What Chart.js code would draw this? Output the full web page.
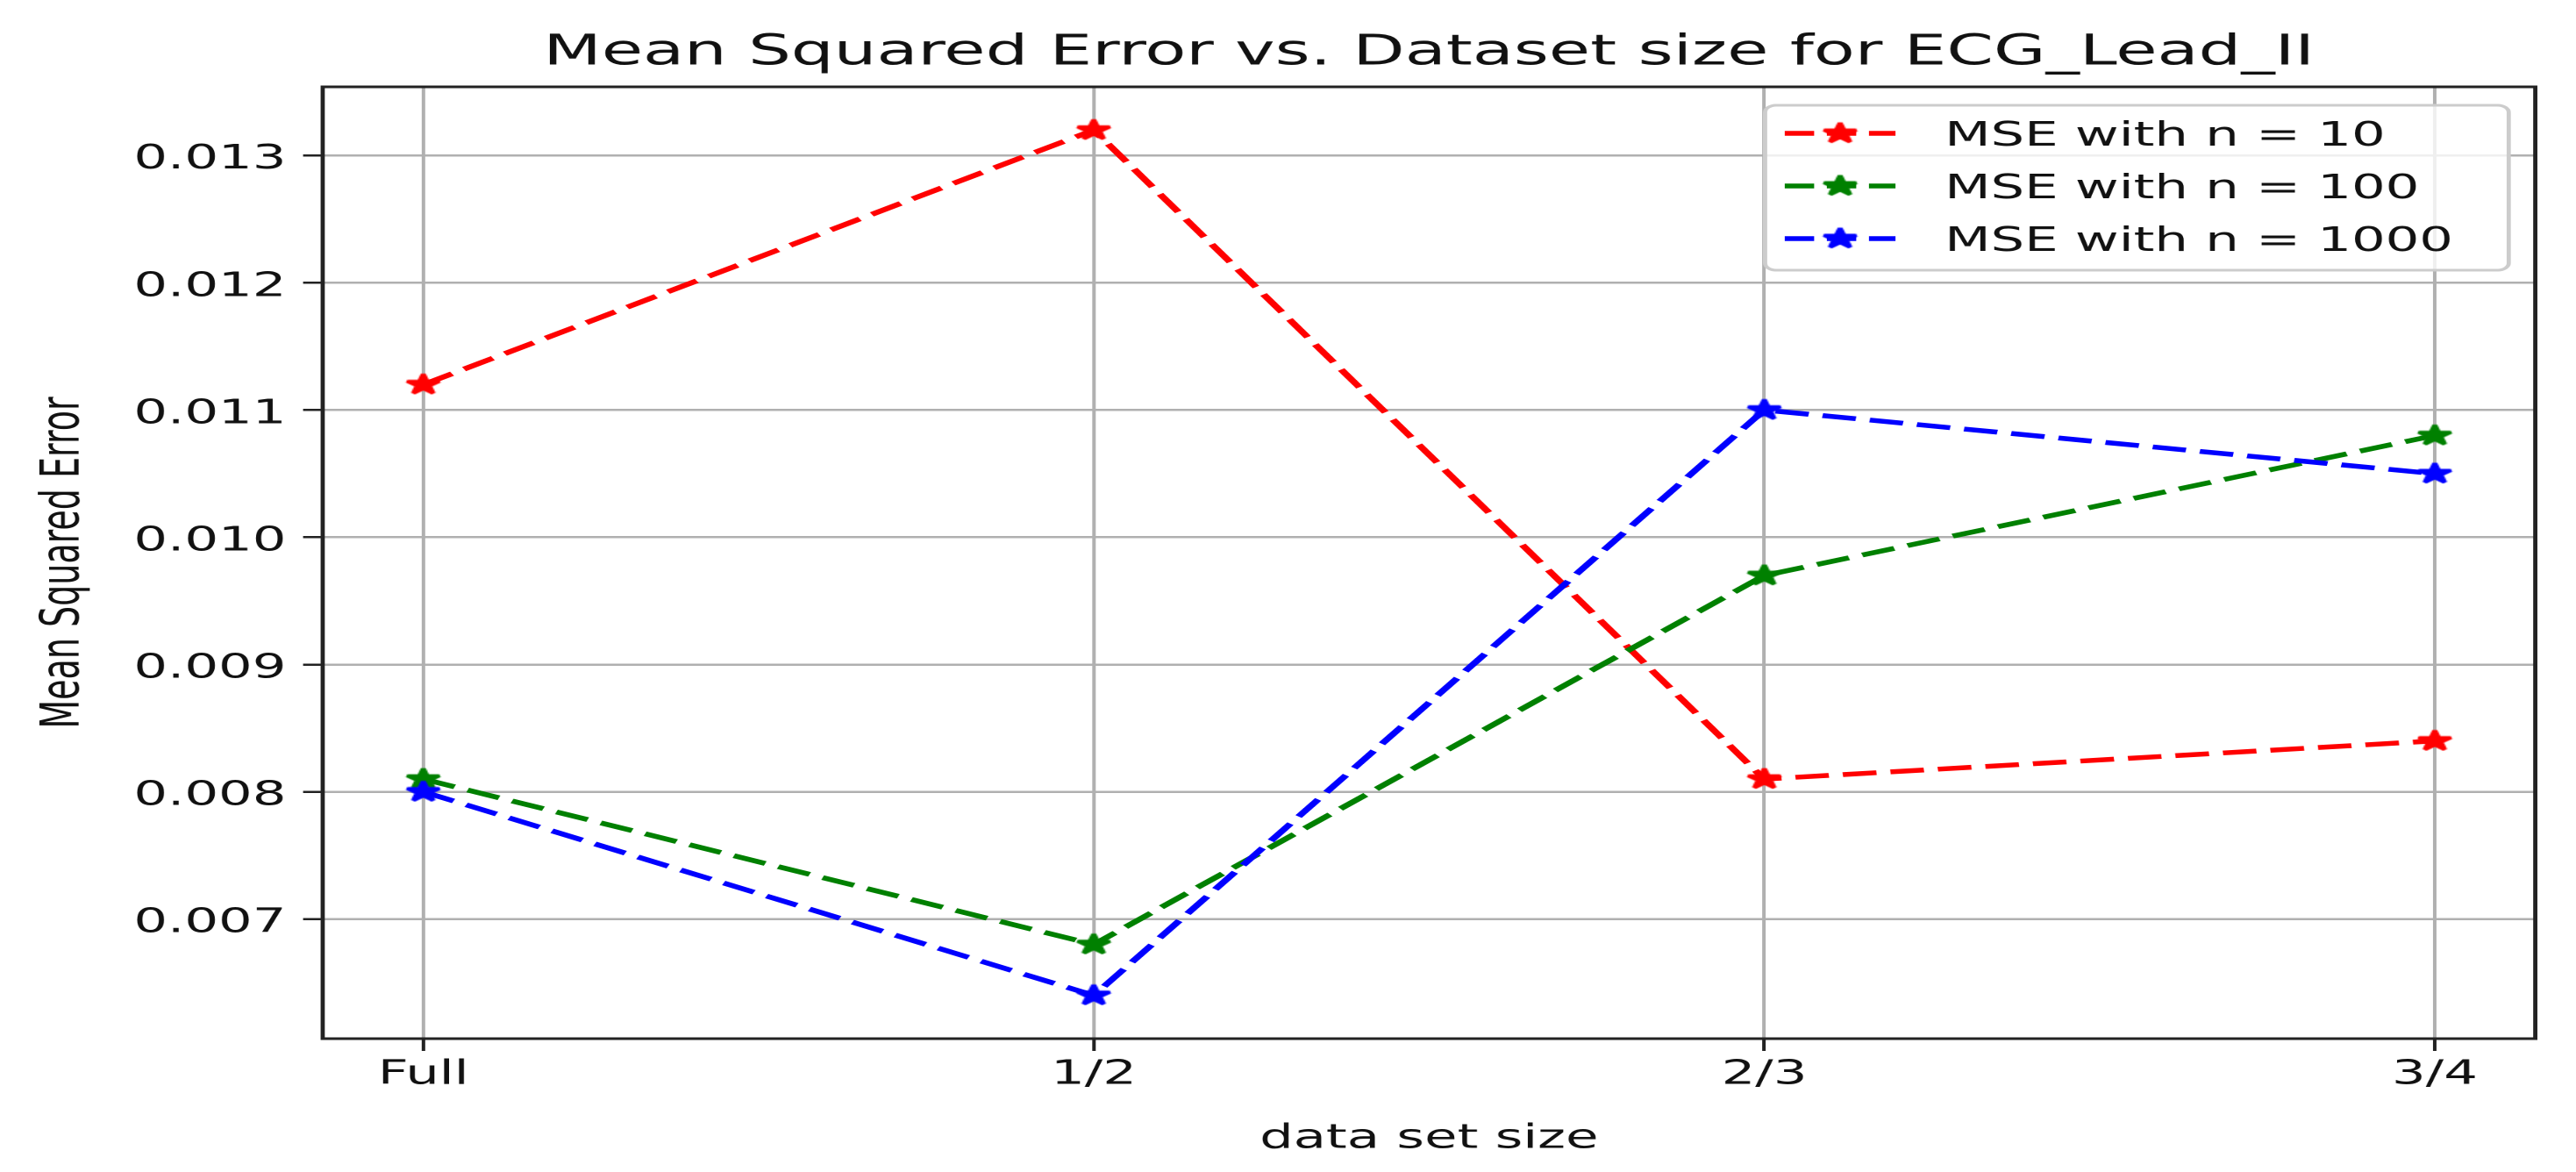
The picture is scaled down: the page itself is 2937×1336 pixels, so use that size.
<!DOCTYPE html>
<html>
<head>
<meta charset="utf-8">
<title>Mean Squared Error vs. Dataset size for ECG_Lead_II</title>
<script src="https://cdn.jsdelivr.net/npm/chart.js@4.4.0/dist/chart.umd.min.js"></script>
<style>
    html, body { margin: 0; padding: 0; background: #fff; overflow: hidden; }
</style>
</head>
<body>
<!-- the source figure is stretched ~1.6x horizontally, so draw narrow and stretch with an inline css size -->
<canvas id="mseChart" width="1836" height="1336" style="display:block;width:2937px;height:1336px"></canvas>
<script>
const categories = ['Full', '1/2', '2/3', '3/4'];
const mseN10 = [0.0112, 0.0132, 0.0081, 0.0084];
const mseN100 = [0.0081, 0.0068, 0.0097, 0.0108];
const mseN1000 = [0.0080, 0.0064, 0.0110, 0.0105];
const yTicks = [0.007, 0.008, 0.009, 0.010, 0.011, 0.012, 0.013];
const yMin = 0.00606;
const yMax = 0.01354;

const FONT = 'DejaVu Sans';
const INK = '#111';

Chart.defaults.font.family = FONT;
Chart.defaults.color = INK;

function starImage(color) {
    const c = document.createElement('canvas');
    c.width = 34;
    c.height = 34;
    const g = c.getContext('2d');
    g.beginPath();
    for (let k = 0; k < 10; k++) {
        const r = k % 2 ? 12 * 0.381966 : 12;
        const a = -Math.PI / 2 + k * Math.PI / 5;
        g.lineTo(17 + r * Math.cos(a), 17 + r * Math.sin(a));
    }
    g.closePath();
    g.fillStyle = color;
    g.fill();
    g.lineWidth = 3.6;
    g.lineJoin = 'bevel';
    g.strokeStyle = color;
    g.stroke();
    return c;
}

const series = (label, values, color, order) => ({
    label,
    data: values.map((v, i) => ({x: i, y: v})),
    borderColor: color,
    backgroundColor: color,
    borderWidth: 5.5,
    borderDash: [24, 10],
    borderCapStyle: 'butt',
    tension: 0,
    fill: false,
    pointStyle: starImage(color),
    pointRadius: 12,
    order
});

// box spines + matplotlib style legend in the upper right
const frameAndLegend = {
    id: 'frameAndLegend',
    afterDatasetsDraw(chart) {
        const {ctx, chartArea} = chart;
        ctx.save();
        ctx.strokeStyle = '#222';
        ctx.lineWidth = 3;
        ctx.strokeRect(chartArea.left, chartArea.top, chartArea.width, chartArea.height);

        const w = 530, h = 188;
        const x = chartArea.right - 19 - w;
        const y = chartArea.top + 21;
        ctx.beginPath();
        ctx.roundRect(x, y, w, h, 8);
        ctx.fillStyle = 'rgba(255,255,255,0.8)';
        ctx.fill();
        ctx.strokeStyle = '#cccccc';
        ctx.lineWidth = 3;
        ctx.stroke();

        ctx.font = `38px "${FONT}"`;
        ctx.textBaseline = 'alphabetic';
        ctx.textAlign = 'left';
        chart.data.datasets.forEach((ds, i) => {
            const cy = y + 32 + i * 60;
            ctx.setLineDash([21, 9]);
            ctx.strokeStyle = ds.borderColor;
            ctx.lineWidth = 5.5;
            ctx.beginPath();
            ctx.moveTo(x + 14, cy);
            ctx.lineTo(x + 93, cy);
            ctx.stroke();
            ctx.setLineDash([]);
            const img = ds.pointStyle;
            ctx.drawImage(img, x + 53.5 - img.width / 2, cy - img.height / 2);
            ctx.fillStyle = INK;
            ctx.fillText(ds.label, x + 128, cy + 14);
        });
        ctx.restore();
    }
};

new Chart(document.getElementById('mseChart'), {
    type: 'line',
    data: {
        datasets: [
            series('MSE with n = 10', mseN10, '#ff0000', 3),
            series('MSE with n = 100', mseN100, '#008000', 2),
            series('MSE with n = 1000', mseN1000, '#0000ff', 1)
        ]
    },
    options: {
        responsive: false,
        devicePixelRatio: 2,
        animation: false,
        layout: {padding: {left: 0, right: 29, top: 0, bottom: 0}},
        scales: {
            x: {
                type: 'linear',
                min: -0.15,
                max: 3.15,
                afterBuildTicks: (axis) => { axis.ticks = categories.map((c, i) => ({value: i})); },
                afterFit: (scale) => { scale.height = 152; },
                ticks: {
                    callback: (v) => categories[v],
                    font: {size: 38},
                    color: INK,
                    padding: 5,
                    maxRotation: 0,
                    autoSkip: false
                },
                grid: {color: '#b0b0b0', lineWidth: 2.5, tickLength: 14, tickColor: '#222', tickWidth: 2.5},
                border: {display: false},
                title: {display: true, text: 'data set size', font: {size: 38}, color: INK, padding: {top: 0, bottom: 14.5}}
            },
            y: {
                type: 'linear',
                min: yMin,
                max: yMax,
                afterBuildTicks: (axis) => { axis.ticks = yTicks.map(v => ({value: v})); },
                afterFit: (scale) => { scale.width = 230; },
                ticks: {
                    callback: (v) => v.toFixed(3),
                    font: {size: 38},
                    color: INK,
                    padding: 12,
                    labelOffset: 5
                },
                grid: {color: '#b0b0b0', lineWidth: 2.5, tickLength: 14, tickColor: '#222', tickWidth: 2.5},
                border: {display: false},
                title: {display: true, text: 'Mean Squared Error', font: {size: 38}, color: INK, padding: {top: 23.4, bottom: 0}}
            }
        },
        plugins: {
            legend: {display: false},
            tooltip: {enabled: false},
            title: {
                display: true,
                fullSize: false,
                text: 'Mean Squared Error vs. Dataset size for ECG_Lead_II',
                font: {size: 48, weight: 'normal'},
                color: INK,
                padding: {top: 32, bottom: 9.4}
            }
        }
    },
    plugins: [frameAndLegend]
});
</script>
</body>
</html>
